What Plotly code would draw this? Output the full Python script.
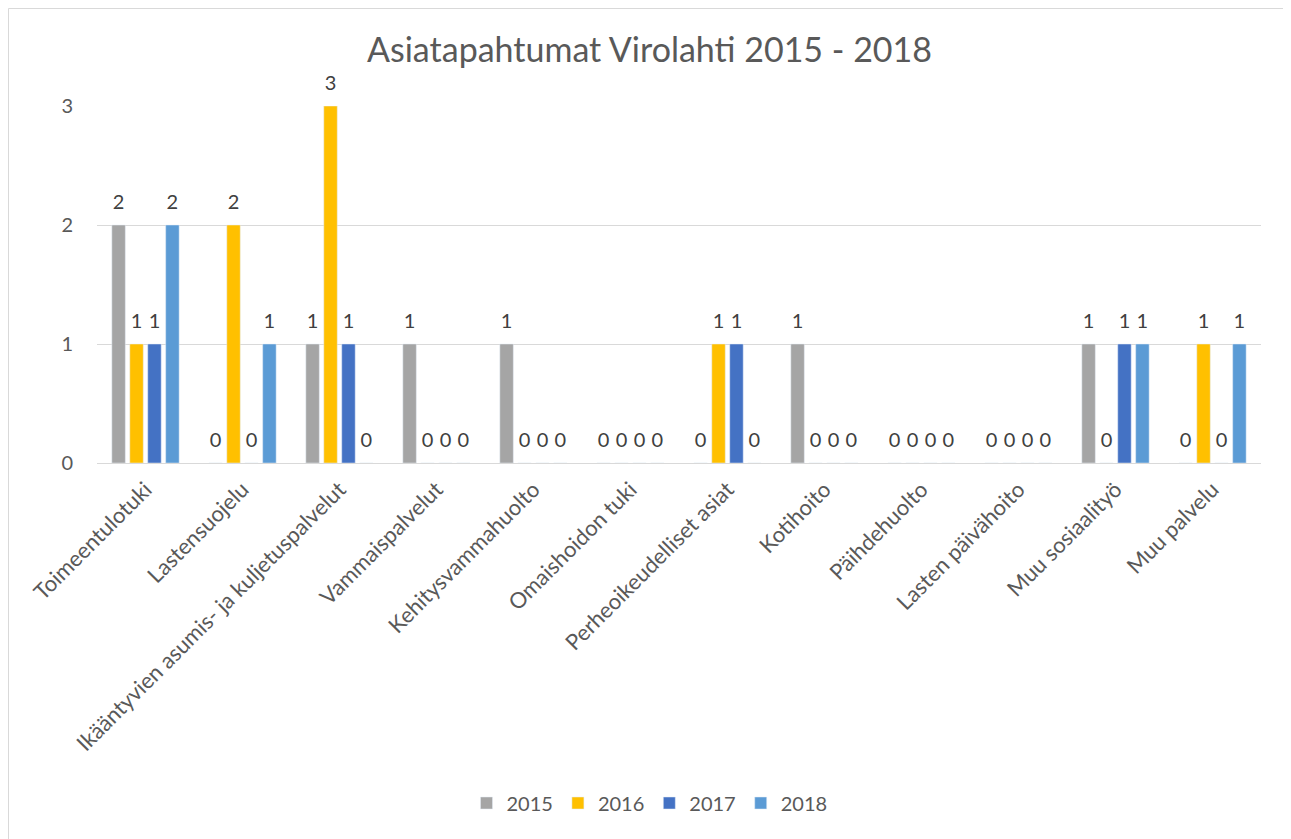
import plotly.graph_objects as go

# data
categories = [
    'Toimeentulotuki', 'Lastensuojelu', 'Ikääntyvien asumis- ja kuljetuspalvelut',
    'Vammaispalvelut', 'Kehitysvammahuolto', 'Omaishoidon tuki',
    'Perheoikeudelliset asiat', 'Kotihoito', 'Päihdehuolto',
    'Lasten päivähoito', 'Muu sosiaalityö', 'Muu palvelu',
]
years = ['2015', '2016', '2017', '2018']
v2015 = [2, 0, 1, 1, 1, 0, 0, 1, 0, 0, 1, 0]
v2016 = [1, 2, 3, 0, 0, 0, 1, 0, 0, 0, 0, 1]
v2017 = [1, 0, 1, 0, 0, 0, 1, 0, 0, 0, 1, 0]
v2018 = [2, 1, 0, 0, 0, 0, 0, 0, 0, 0, 1, 1]
series = [v2015, v2016, v2017, v2018]
colors = ['#A5A5A5', '#FFC000', '#4472C4', '#5B9BD5']

FONT = 'Lato'
W, H = 1283, 831   # page has an 8px body margin
L, R, T, B = 89, 30, 98, 376
PW, PH = W - L - R, H - T - B

fig = go.Figure()
for name, vals, col in zip(years, series, colors):
    fig.add_trace(go.Bar(
        x=categories, y=vals, name=name, marker_color=col,
        offsetgroup=name, hoverinfo='skip',
    ))
# data labels above the bars (Excel style, incl. zeros at the baseline)
for name, vals in zip(years, series):
    fig.add_trace(go.Scatter(
        x=categories, y=vals, mode='markers+text', text=[str(v) for v in vals],
        textposition='top center', offsetgroup=name, showlegend=False,
        marker=dict(size=16, color='rgba(0,0,0,0)'),
        textfont=dict(family=FONT, size=20, color='#404040'),
        cliponaxis=False, hoverinfo='skip',
    ))

fig.update_layout(
    width=W, height=H,
    margin=dict(l=L, r=R, t=T, b=B),
    paper_bgcolor='white', plot_bgcolor='white',
    barmode='group', bargap=0.26, bargroupgap=0.25,
    scattermode='group', scattergap=0.26,
    font=dict(family=FONT, color='#595959'),
    title=dict(
        text='Asiatapahtumat Virolahti 2015 - 2018',
        font=dict(family=FONT, size=34, color='#595959'),
        x=0.5, xref='container', xanchor='center',
        y=1 - 42 / H, yref='container', yanchor='middle',
    ),
    xaxis=dict(
        tickangle=-45, tickfont=dict(size=22, color='#595959'),
        showgrid=False, showline=True, linecolor='#d9d9d9', linewidth=1,
        ticks='', ticklabelstandoff=4, fixedrange=True, automargin=False,
    ),
    yaxis=dict(
        range=[0, 3], dtick=1, tickfont=dict(size=20, color='#595959'),
        showgrid=True, gridcolor='#d9d9d9', gridwidth=1,
        zeroline=False, showline=False, ticks='', ticklabelstandoff=23,
        fixedrange=True, automargin=False,
    ),
    legend=dict(
        orientation='h', x=(W / 2 - L) / PW, xanchor='center',
        y=(T + PH - 795) / PH, yanchor='middle',
        font=dict(size=20, color='#595959'),
        traceorder='normal',
    ),
    shapes=[dict(
        type='rect', xref='paper', yref='paper',
        x0=(0.5 - L) / PW, x1=(1282 - L) / PW,
        y0=(T + PH - 840) / PH, y1=(T + PH - 0.5) / PH,
        line=dict(color='#d9d9d9', width=1), fillcolor='rgba(0,0,0,0)',
        layer='below',
    )],
)

fig.write_html('out.html')
